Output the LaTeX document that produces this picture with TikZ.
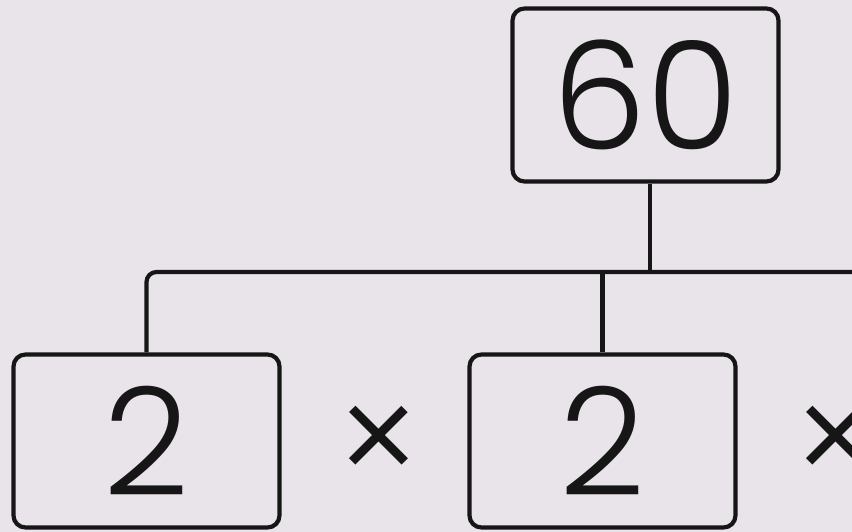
\documentclass[tikz,border=0pt]{standalone}
\usepackage{fontspec}
\newfontfamily\digitfont{Poppins}[UprightFont=* Light]
\definecolor{paper}{HTML}{E9E4E9}
\definecolor{ink}{HTML}{161616}
\tikzset{
  numbox/.style={draw=ink, line width=4.2pt, rounded corners=12pt, fill=paper,
    minimum width=266pt, minimum height=173pt, inner sep=0pt,
    font=\digitfont\fontsize{150}{150}\selectfont, text=ink},
  timesign/.style={font=\digitfont\fontsize{140}{140}\selectfont, text=ink, inner sep=0pt},
  conn/.style={draw=ink, line width=4.2pt}
}
\begin{document}
\begin{tikzpicture}[x=1pt, y=-1pt]
  \fill[paper] (0,0) rectangle (852,532);
  \useasboundingbox (0,0) rectangle (852,532);
  \clip (0,0) rectangle (852,532);

  % factor tree: 60 on top, factors below
  \node[numbox] (top) at (645.5,95) {60};
  \node[numbox] (f1) at (146.5,441) {2};
  \node[numbox] (f2) at (602.5,441) {2};
  \node[timesign] (t1) at (379,447) {×};
  \node[timesign] (t2) at (836,447) {×};

  % branch bar running off to the right
  \coordinate (barend) at (870,272);
  \draw[conn] ([xshift=4.5pt]top.south) -- ([xshift=4.5pt]top.south |- barend);
  \draw[conn, rounded corners=10pt] (f1.north) |- (barend);
  \draw[conn] (f2.north) -- (f2.north |- barend);
\end{tikzpicture}
\end{document}
